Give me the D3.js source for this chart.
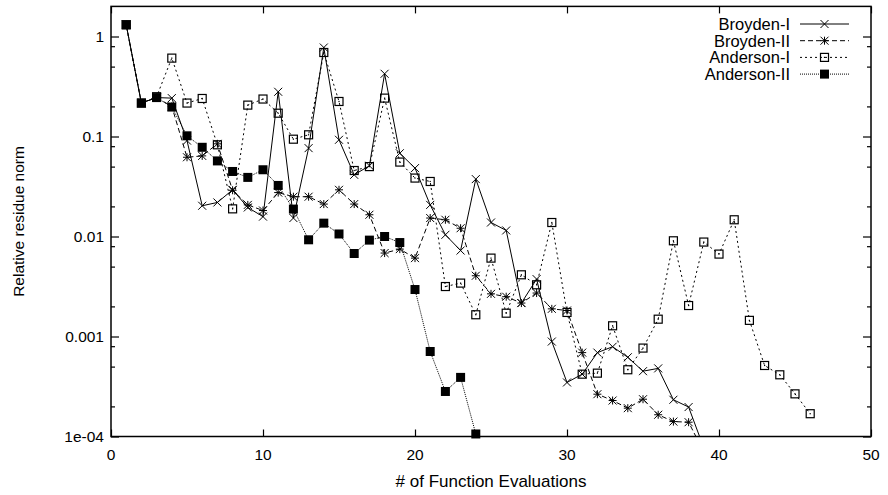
<!DOCTYPE html>
<html>
<head>
<meta charset="utf-8">
<script src="https://cdn.jsdelivr.net/npm/d3@7"></script>
<style>
  body { margin: 0; background: #fff; }
  svg text { font-family: "Liberation Sans", Arial, sans-serif; fill: #000; }
</style>
</head>
<body>
<div class="chart"></div>
<script>
// data
var evals = d3.range(1, 47);
var broydenI = [1.31, 0.216, 0.245, 0.242, 0.091, 0.0203, 0.0219, 0.0293, 0.0195, 0.0158,
    0.28, 0.0153, 0.0765, 0.776, 0.0927, 0.0414, 0.051, 0.424, 0.068, 0.0483,
    0.0207, 0.0104, 0.00724, 0.0375, 0.0138, 0.0115, 0.00216, 0.00375, 0.00089, 0.000347,
    0.00042, 0.00069, 0.00079, 0.00062, 0.00045, 0.00048, 0.000233, 0.000197, 0.000077];
var broydenII = [1.31, 0.216, 0.245, 0.2, 0.062, 0.064, 0.0845, 0.029, 0.0207, 0.0182,
    0.0275, 0.025, 0.025, 0.0211, 0.0293, 0.0211, 0.0165, 0.00683, 0.00748, 0.00608,
    0.0153, 0.0147, 0.0121, 0.00405, 0.00267, 0.0025, 0.00216, 0.00272, 0.00189, 0.00182,
    0.00069, 0.000265, 0.000229, 0.000192, 0.000236, 0.000165, 0.000141, 0.000139, 0.00007];
var andersonI = [1.31, 0.216, 0.25, 0.608, 0.216, 0.24, 0.0826, 0.0189, 0.206, 0.237,
    0.171, 0.094, 0.104, 0.692, 0.224, 0.0457, 0.05, 0.242, 0.0555, 0.0384,
    0.0355, 0.00316, 0.00342, 0.00165, 0.00608, 0.00171, 0.00414, 0.00329, 0.0138, 0.00174,
    0.00042, 0.00043, 0.00128, 0.000465, 0.000766, 0.00149, 0.00906, 0.00204, 0.0088, 0.00667,
    0.0147, 0.00145, 0.000513, 0.000414, 0.000267, 0.000169];
var andersonII = [1.31, 0.216, 0.245, 0.197, 0.1016, 0.078, 0.057, 0.0447, 0.039, 0.0465,
    0.0324, 0.0188, 0.00927, 0.0136, 0.0106, 0.00676, 0.0092, 0.01, 0.0087, 0.00295,
    0.000708, 0.000282, 0.00039, 0.000106];

var seriesNames = ["Broyden-I", "Broyden-II", "Anderson-I", "Anderson-II"];
var xTicks = [0, 10, 20, 30, 40, 50];
var yTicks = [1, 0.1, 0.01, 0.001, 0.0001];
var yTickLabels = ["1", "0.1", "0.01", "0.001", "1e-04"];

var width = 888, height = 495;
var plotLeft = 111, plotRight = 871, plotTop = 6.4, plotBottom = 436.5;

var svg = d3.select(".chart").append("svg")
    .attr("width", width)
    .attr("height", height);

var x = d3.scaleLinear().domain([0, 50]).range([plotLeft, plotRight]);
var y = d3.scaleLog().domain([1e-4, 2]).range([plotBottom, plotTop]);

// minor ticks at 2, 5, 8 of each decade
var minor = [];
[1e-5, 1e-4, 1e-3, 1e-2, 1e-1, 1].forEach(function (d) {
    [2, 5, 8].forEach(function (m) {
        var v = d * m;
        if (v > 1e-4 && v < 2) minor.push(v);
    });
});

// y ticks, left (inward) and right (mirrored)
svg.append("g").attr("transform", "translate(" + plotLeft + ",0)")
    .call(d3.axisRight(y).tickValues(yTicks).tickSize(8).tickFormat(""));
svg.append("g").attr("transform", "translate(" + plotLeft + ",0)")
    .call(d3.axisRight(y).tickValues(minor).tickSize(4).tickFormat(""));
svg.append("g").attr("transform", "translate(" + plotRight + ",0)")
    .call(d3.axisLeft(y).tickValues(yTicks).tickSize(8).tickFormat(""));
svg.append("g").attr("transform", "translate(" + plotRight + ",0)")
    .call(d3.axisLeft(y).tickValues(minor).tickSize(4).tickFormat(""));
// x ticks, bottom and top
svg.append("g").attr("transform", "translate(0," + plotBottom + ")")
    .call(d3.axisTop(x).tickValues(xTicks).tickSize(7).tickFormat(""));
svg.append("g").attr("transform", "translate(0," + plotTop + ")")
    .call(d3.axisBottom(x).tickValues(xTicks).tickSize(7).tickFormat(""));

svg.selectAll(".domain").remove();
svg.selectAll(".tick line").attr("stroke", "#000").attr("stroke-width", 1.2);

// frame
svg.append("rect")
    .attr("x", plotLeft).attr("y", plotTop)
    .attr("width", plotRight - plotLeft).attr("height", plotBottom - plotTop)
    .attr("fill", "none").attr("stroke", "#000").attr("stroke-width", 1.5);

// tick labels
svg.append("g").selectAll("text")
    .data(yTicks)
    .enter().append("text")
    .attr("x", 104)
    .attr("y", function (d) { return y(d); })
    .attr("dy", "0.36em")
    .attr("text-anchor", "end")
    .style("font-size", "15.5px")
    .text(function (d, i) { return yTickLabels[i]; });

svg.append("g").selectAll("text")
    .data(xTicks)
    .enter().append("text")
    .attr("x", function (d) { return x(d); })
    .attr("y", 460)
    .attr("text-anchor", "middle")
    .style("font-size", "15.5px")
    .text(function (d) { return d; });

svg.append("text")
    .attr("x", (plotLeft + plotRight) / 2)
    .attr("y", 487)
    .attr("text-anchor", "middle")
    .style("font-size", "17px")
    .text("# of Function Evaluations");

svg.append("text")
    .attr("transform", "translate(24," + ((plotTop + plotBottom) / 2) + ") rotate(-90)")
    .attr("text-anchor", "middle")
    .style("font-size", "15.5px")
    .text("Relative residue norm");

// series
svg.append("defs").append("clipPath").attr("id", "plot")
    .append("rect")
    .attr("x", plotLeft).attr("y", plotTop)
    .attr("width", plotRight - plotLeft).attr("height", plotBottom - plotTop);

var styles = [
    { dash: null, marker: "cross" },
    { dash: "5,3", marker: "star" },
    { dash: "2,3", marker: "box" },
    { dash: "1,1", marker: "fbox" }
];
var allSeries = [broydenI, broydenII, andersonI, andersonII];

function drawMarker(g, kind, cx, cy) {
    var s = 4;
    if (kind === "cross" || kind === "star") {
        g.append("path")
            .attr("d", "M" + (cx - s) + "," + (cy - s) + "L" + (cx + s) + "," + (cy + s) +
                "M" + (cx - s) + "," + (cy + s) + "L" + (cx + s) + "," + (cy - s) +
                (kind === "star" ? "M" + (cx - s) + "," + cy + "L" + (cx + s) + "," + cy +
                    "M" + cx + "," + (cy - s) + "L" + cx + "," + (cy + s) : ""))
            .attr("stroke", "#000").attr("stroke-width", 1).attr("fill", "none");
    } else if (kind === "box") {
        g.append("rect")
            .attr("x", cx - s).attr("y", cy - s).attr("width", 2 * s).attr("height", 2 * s)
            .attr("fill", "none").attr("stroke", "#000").attr("stroke-width", 1.2);
        g.append("rect")
            .attr("x", cx - 0.6).attr("y", cy - 0.6).attr("width", 1.2).attr("height", 1.2)
            .attr("fill", "#000");
    } else {
        g.append("rect")
            .attr("x", cx - s - 0.5).attr("y", cy - s - 0.5).attr("width", 2 * s + 1).attr("height", 2 * s + 1)
            .attr("fill", "#000");
    }
}

var line = d3.line()
    .x(function (d, i) { return x(evals[i]); })
    .y(function (d) { return y(d); });

allSeries.forEach(function (vals, k) {
    svg.append("path")
        .datum(vals)
        .attr("clip-path", "url(#plot)")
        .attr("d", line)
        .attr("fill", "none")
        .attr("stroke", "#000")
        .attr("stroke-width", 1)
        .attr("stroke-dasharray", styles[k].dash);
    var g = svg.append("g");
    vals.forEach(function (v, i) {
        if (v >= 1e-4) drawMarker(g, styles[k].marker, x(evals[i]), y(v));
    });
});

// legend
var legend = svg.append("g");
seriesNames.forEach(function (name, k) {
    var ly = 24 + k * 16.7;
    legend.append("text")
        .attr("x", 790).attr("y", ly)
        .attr("dy", "0.36em")
        .attr("text-anchor", "end")
        .style("font-size", "16.5px")
        .text(name);
    legend.append("line")
        .attr("x1", 800).attr("x2", 849)
        .attr("y1", ly).attr("y2", ly)
        .attr("stroke", "#000").attr("stroke-width", 1)
        .attr("stroke-dasharray", styles[k].dash);
    drawMarker(legend, styles[k].marker, 824.5, ly);
});
</script>
</body>
</html>
